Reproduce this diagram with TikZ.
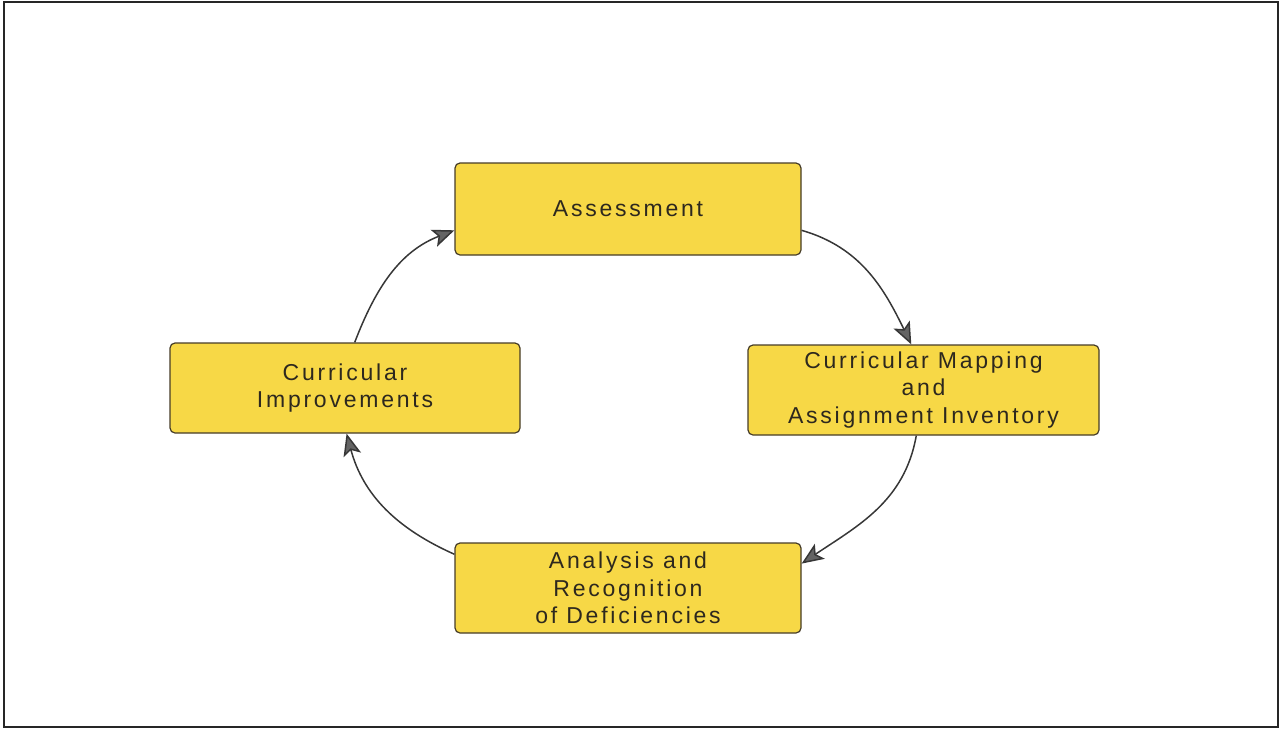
\documentclass[tikz,border=0pt]{standalone}
\usepackage{fontspec}
\setmainfont{Liberation Sans}[LetterSpace=12]
\usetikzlibrary{arrows.meta}
\definecolor{boxfill}{RGB}{247,216,70}
\definecolor{boxedge}{RGB}{70,60,40}
\definecolor{arrowline}{RGB}{55,55,55}
\definecolor{tipfill}{RGB}{100,100,100}
\definecolor{txt}{RGB}{45,40,30}
\begin{document}
\begin{tikzpicture}[x=0.5pt,y=0.5pt,
  stepbox/.style={draw=boxedge, line width=0.6pt, fill=boxfill, rounded corners=2.5pt,
    minimum width=#1, minimum height=45pt, align=center, inner sep=0pt,
    text=txt, font=\fontsize{11.5}{13.7}\selectfont},
  flow/.style={draw=arrowline, line width=0.75pt,
    -{Stealth[length=11pt,width=9pt,inset=2.5pt,fill=tipfill]}}]
\useasboundingbox (0,0) rectangle (1282,-729);
\draw[line width=1pt, black!85] (4,-2) rectangle (1278,-727);
\node[stepbox=173pt, minimum height=46pt] (A) at (628,-209) {Assessment};
\node[stepbox=175.5pt] (M) at (923.5,-390) {Curricular Mapping\\and\\Assignment Inventory};
\node[stepbox=173pt] (D) at (628,-588) {Analysis and\\Recognition\\of Deficiencies};
\node[stepbox=175pt] (I) at (345,-388) {Curricular\\Improvements};
\draw[flow] (A.-7) to[out=-16, in=116] (M.105);
\draw[flow] (M.-99) to[out=-100, in=34] (D.8);
\draw[flow] (D.169.5) to[out=156, in=-75] (I.-88);
\draw[flow] (I.78) to[out=69, in=201] (A.187);
\end{tikzpicture}
\end{document}
